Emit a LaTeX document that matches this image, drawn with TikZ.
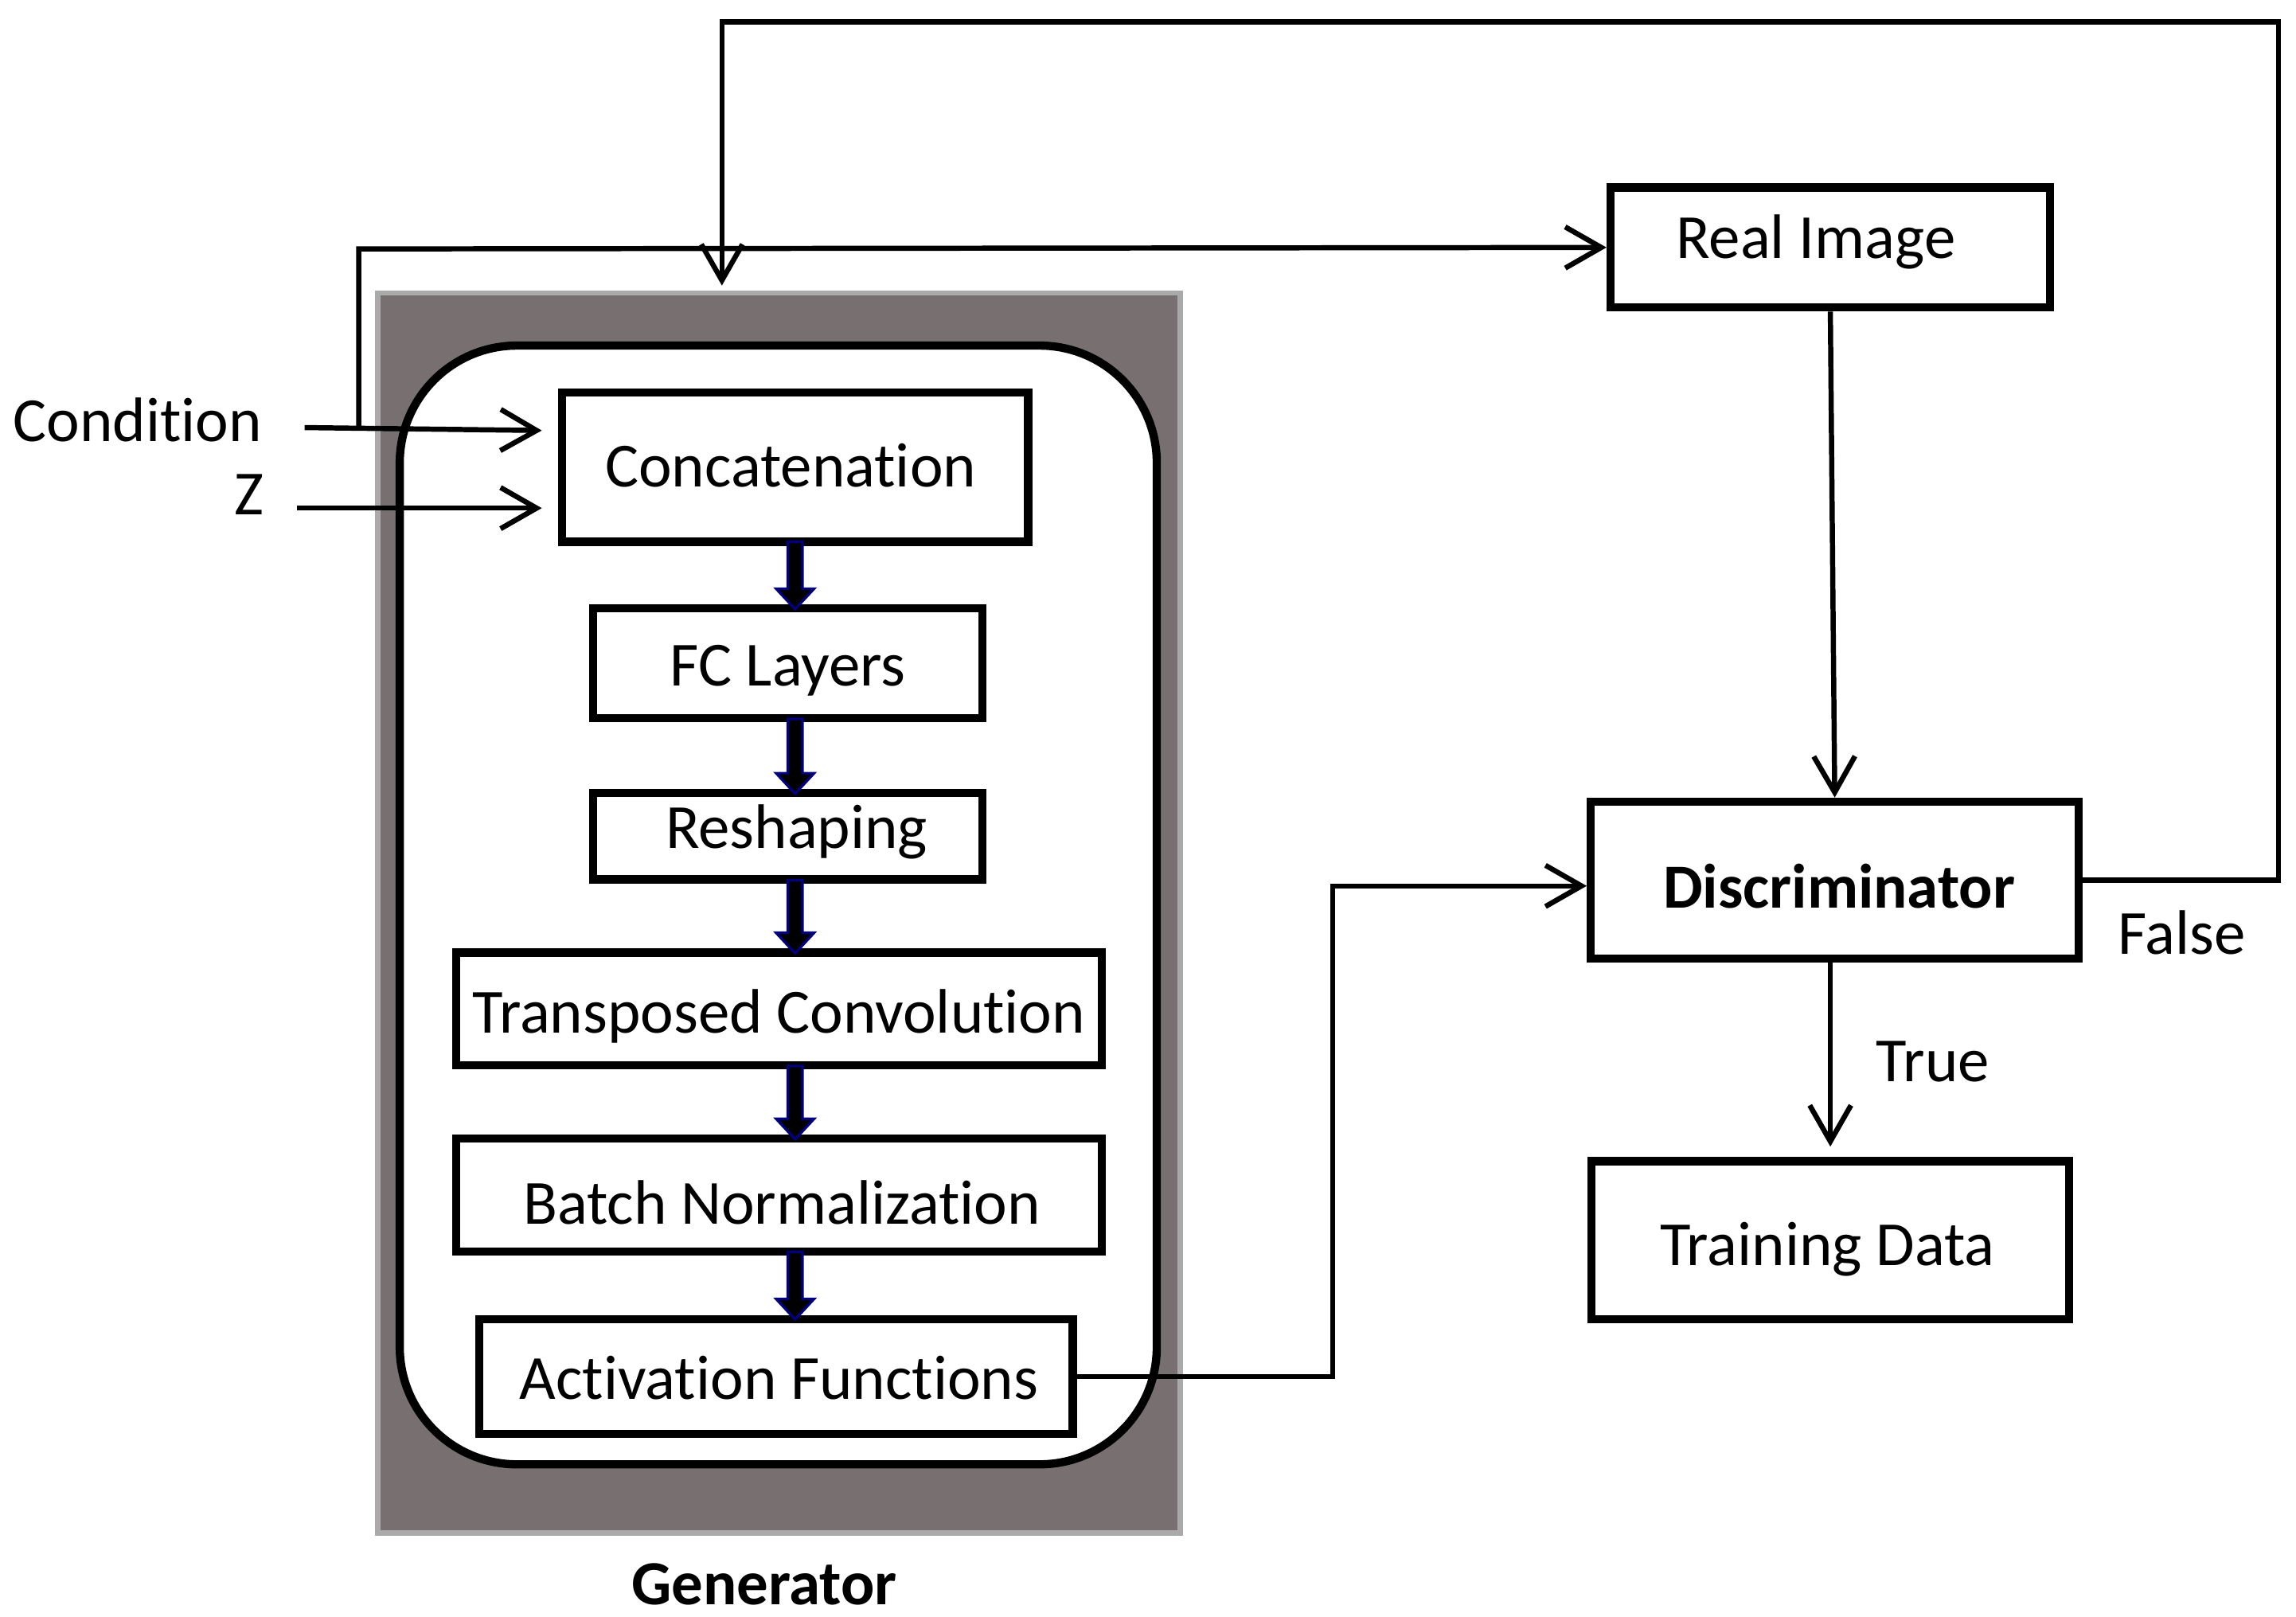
\documentclass[tikz,border=0pt]{standalone}
\usepackage{fontspec}
\setmainfont{Carlito}[Ligatures={NoCommon}]
\usetikzlibrary{arrows.meta}
\begin{document}
\begin{tikzpicture}[x=0.01cm,y=-0.01cm,
  box/.style={draw,line width=1.6pt,fill=white,inner sep=0pt},
  lbl/.style={font=\fontsize{12.2}{14}\selectfont},
  ar/.style={line width=1pt,-{Straight Barb[length=7pt,width=8pt]}},
  fat/.style={draw=blue!50!black,fill=black,line width=0.5pt}]
\useasboundingbox (0,0) rectangle (1568,1104);
\fill[fill={rgb,255:red,120;green,112;blue,112},draw={rgb,255:red,170;green,170;blue,170},line width=1pt] (258,200) rectangle (806,1047);
\draw[fill=white,line width=1.6pt,rounded corners=0.8cm] (273,236) rectangle (790,1000);
\node[box,minimum width=3.18cm,minimum height=1.02cm] (cat) at (543,319) {};
\node[lbl] at (540,318) {Concatenation};
\node[box,minimum width=2.66cm,minimum height=0.75cm] (fc) at (538,453) {};
\node[lbl] at (538,458) {FC Layers};
\node[box,minimum width=2.66cm,minimum height=0.59cm] (rs) at (538,571) {};
\node[lbl] at (544,568) {Reshaping};
\node[box,minimum width=4.41cm,minimum height=0.77cm] (tc) at (532,689) {};
\node[lbl] at (532,694) {Transposed Convolution};
\node[box,minimum width=4.41cm,minimum height=0.77cm] (bn) at (532,816) {};
\node[lbl] at (534,821) {Batch Normalization};
\node[box,minimum width=4.05cm,minimum height=0.78cm] (af) at (530,940) {};
\node[lbl] at (532,941) {Activation Functions};
\node[box,minimum width=3.00cm,minimum height=0.82cm] (ri) at (1250,169) {};
\node[lbl] at (1240,165) {Real Image};
\node[box,minimum width=3.33cm,minimum height=1.07cm] (ds) at (1253,601) {};
\node[lbl,font=\fontsize{12.2}{14}\selectfont\bfseries] at (1256,605) {Discriminator};
\node[box,minimum width=3.26cm,minimum height=1.08cm] (td) at (1250,847) {};
\node[lbl] at (1248,853) {Training Data};
\node[lbl] (cond) at (94,287) {Condition};
\node[lbl] (z) at (170,338) {Z};
\node[lbl] at (1320,725) {True};
\node[lbl] at (1490,637) {False};
\node[lbl,font=\fontsize{12.2}{14}\selectfont\bfseries] at (522,1082) {Generator};
\foreach \a/\b in {370/416,491/542,601/651,728/778,855/901}{
 \path[fat] (538,\a) -- (548,\a) -- (548,\b-14) -- (556,\b-14) -- (543,\b) -- (530,\b-14) -- (538,\b-14) -- cycle;}
\coordinate (c1) at (208,292);
\coordinate (z1) at (203,347);
\draw[ar] (c1) -- (370,294);
\draw[ar] (z1) -- (370,347);
\draw[ar] (245,292) -- (245,170) -- (ri.west);
\draw[ar] (ds.east) -- (1556,601) -- (1556,15) -- (493,15) -- (493,195);
\draw[ar] (af.east) -- (910,940) -- (910,605) -- (ds.west |- 0,605);
\draw[ar] (ri.south) -- (ds.north);
\draw[ar] (1250,654) -- (1250,783);
\end{tikzpicture}
\end{document}
